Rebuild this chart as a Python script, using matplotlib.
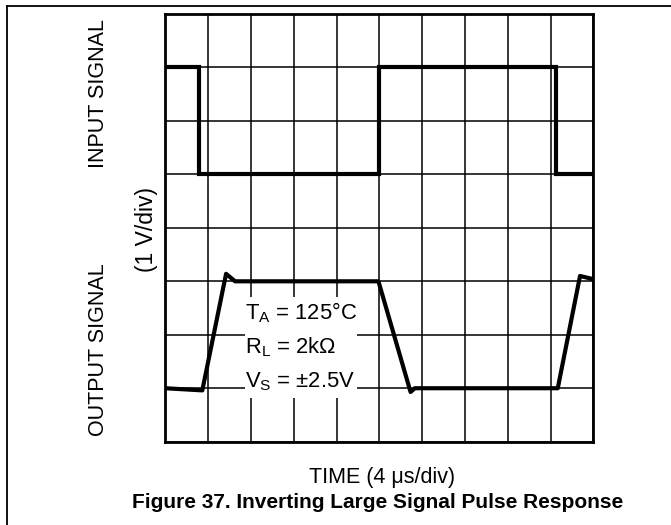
import matplotlib
matplotlib.use("Agg")
import matplotlib.pyplot as plt
from matplotlib.lines import Line2D
from matplotlib.patches import Rectangle

plt.rcParams['font.family'] = ['Liberation Sans', 'DejaVu Sans']
plt.rcParams['mathtext.fontset'] = 'custom'
plt.rcParams['mathtext.rm'] = 'Liberation Sans'
plt.rcParams['mathtext.it'] = 'Liberation Sans:italic'
plt.rcParams['mathtext.bf'] = 'Liberation Sans:bold'

# Scope trace data (time in divisions, amplitude in divisions)
input_t = [0, 0.79, 0.79, 5.0, 5.0, 9.13, 9.13, 10]
input_v = [7, 7, 5, 5, 7, 7, 5, 5]
output_t = [0, 0.865, 1.42, 1.63, 4.98, 5.73, 5.83, 9.17, 9.69, 10]
output_v = [1, 0.96, 3.14, 3.0, 3.0, 0.93, 1.0, 1.0, 3.10, 3.04]

n_xdiv = 10
n_ydiv = 8

conditions = [r"T$_\mathregular{A}$ = 125°C",
              r"R$_\mathregular{L}$ = 2kΩ",
              r"V$_\mathregular{S}$ = ±2.5V"]

W, H = 671, 525
fig = plt.figure(figsize=(W / 100, H / 100), dpi=100)
ax = fig.add_axes([165.3 / W, 1 - 441.7 / H, 428 / W, 427.7 / H])

ax.set_xlim(0, n_xdiv)
ax.set_ylim(0, n_ydiv)
ax.set_xticks(range(n_xdiv + 1))
ax.set_yticks(range(n_ydiv + 1))
ax.tick_params(length=0, labelbottom=False, labelleft=False)
ax.grid(True, color='black', linewidth=1.1, zorder=0)
ax.set_axisbelow(True)
for sp in ax.spines.values():
    sp.set_linewidth(2.0)

ax.plot(input_t, input_v, color='black', linewidth=3.0, solid_joinstyle='miter', zorder=4)
ax.plot(output_t, output_v, color='black', linewidth=3.0, solid_joinstyle='round', zorder=4)

# White panel behind the test conditions
ax.add_patch(Rectangle((1.86, 0.82), 2.63, 1.88, facecolor='white',
                       edgecolor='none', zorder=2))
for i, s in enumerate(conditions):
    ax.text(1.87, 2.42 - i * 0.645, s, fontsize=15.8, ha='left', va='center', zorder=3)

# Axis captions
fig.text(99 / W, 1 - 93 / H, "INPUT SIGNAL", rotation=90, fontsize=15.5,
         ha='center', va='center')
fig.text(99 / W, 1 - 350 / H, "OUTPUT SIGNAL", rotation=90, fontsize=15.5,
         ha='center', va='center')
fig.text(147 / W, 1 - 230 / H, "(1 V/div)", rotation=90, fontsize=16.5,
         ha='center', va='center')
fig.text(382 / W, 1 - 477 / H, "TIME (4 μs/div)", fontsize=15.5,
         ha='center', va='center')
fig.text(378 / W, 1 - 503 / H, "Figure 37. Inverting Large Signal Pulse Response",
         fontsize=15, fontweight='bold', ha='center', va='center')

# Page frame (top and left rules)
fig.add_artist(Line2D([7 / W, 1], [1 - 6 / H, 1 - 6 / H], color='black', linewidth=1.3))
fig.add_artist(Line2D([7 / W, 7 / W], [0, 1 - 6 / H], color='black', linewidth=1.3))

fig.savefig("out.png", dpi=100)
